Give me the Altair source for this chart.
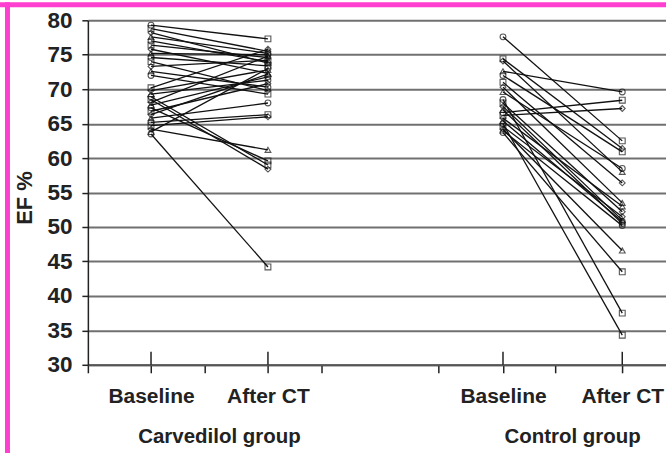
import altair as alt
import pandas as pd

# ---- data ----
categories = ["Baseline", "After CT", "Baseline", "After CT"]
cat_pos = [0.54, 1.54, 3.55, 4.57]
groups = ["Carvedilol group", "Control group"]

carv_base = [79.3, 78.8, 78.2, 77.6, 77.0, 76.4, 75.8, 75.2, 74.6, 74.0, 73.3, 72.6, 72.0,
             70.2, 69.8, 69.3, 68.9, 68.5, 68.1, 67.7, 67.3, 66.8, 66.3, 65.8, 65.2, 64.7,
             64.2, 63.8, 63.5]
carv_after = [77.3, 75.5, 73.8, 75.2, 74.0, 74.6, 72.3, 75.0, 73.4, 69.8, 74.2, 70.3, 69.3,
              75.8, 72.8, 71.3, 59.0, 58.4, 74.8, 71.8, 59.6, 70.8, 72.2, 68.0, 66.3, 66.0,
              61.2, 73.0, 44.2]

ctrl_base = [77.6, 74.4, 74.1, 72.6, 72.0, 71.0, 70.3, 69.6, 68.5, 68.0, 67.5, 67.0, 66.6,
             66.2, 65.8, 65.4, 65.0, 64.6, 64.2, 64.0, 63.7]
ctrl_after = [62.5, 61.4, 58.0, 69.6, 60.9, 56.4, 53.5, 58.5, 37.5, 52.2, 51.0, 50.5, 68.4,
              67.2, 53.0, 50.8, 34.3, 51.5, 46.6, 50.2, 43.5]

y_ticks = [30, 35, 40, 45, 50, 55, 60, 65, 70, 75, 80]
minor_ticks = [0, 1, 2, 3, 4]

shapes = ["circle", "square", "diamond", "triangle-up"]

rows = []
for g, base, after, p0, p1 in [("C", carv_base, carv_after, cat_pos[0], cat_pos[1]),
                               ("K", ctrl_base, ctrl_after, cat_pos[2], cat_pos[3])]:
    for i, (b, a) in enumerate(zip(base, after)):
        rows.append({"id": f"{g}{i}", "pos": p0, "ef": b, "shape": shapes[i % 4]})
        rows.append({"id": f"{g}{i}", "pos": p1, "ef": a, "shape": shapes[(i + 1) % 4]})
df = pd.DataFrame(rows)

cat_df = pd.DataFrame({"pos": cat_pos, "label": categories})
grp_df = pd.DataFrame({"group": groups,
                       "pos": [(cat_pos[0] + cat_pos[1]) / 2, (cat_pos[2] + cat_pos[3]) / 2]})

FONT = "Liberation Sans"
TXT = "#222222"

xscale = alt.Scale(domain=[0, 4.944], nice=False, zero=False)
yscale = alt.Scale(domain=[30, 80], nice=False, zero=False)

label_expr = ("datum.value == 0.54 || datum.value == 3.55 ? 'Baseline' : "
              "(datum.value == 1.54 || datum.value == 4.57 ? 'After CT' : '')")

lines = alt.Chart(df).mark_line(color="#111111", strokeWidth=1.3).encode(
    x=alt.X("pos:Q", scale=xscale,
            axis=alt.Axis(values=minor_ticks + cat_pos, labelExpr=label_expr, title=None,
                          grid=False, tickSize=8, tickColor="#222", tickWidth=1.5,
                          domainColor="#555", domainWidth=2, labelFont=FONT,
                          labelFontSize=21, labelFontWeight="bold", labelColor=TXT,
                          labelPadding=13, labelOverlap=False, labelFlush=False)),
    y=alt.Y("ef:Q", scale=yscale,
            axis=alt.Axis(values=y_ticks, title=None, grid=True, gridColor="#707070",
                          gridWidth=2, tickSize=6, tickColor="#222", tickWidth=1.5,
                          domainColor="#222", domainWidth=1.5, labelFont=FONT,
                          labelFontSize=22.5, labelFontWeight="bold", labelColor=TXT,
                          labelPadding=10, labelOverlap=False, labelFlush=False,
                          tickCount=11)),
    detail="id:N",
)

points = alt.Chart(df).mark_point(filled=False, color="#111111", size=34, strokeWidth=1.1).encode(
    x=alt.X("pos:Q", scale=xscale),
    y=alt.Y("ef:Q", scale=yscale),
    shape=alt.Shape("shape:N", scale=None, legend=None),
)

major_up = alt.Chart(cat_df).mark_rule(color="#222", strokeWidth=1.5).encode(
    x=alt.X("pos:Q", scale=xscale),
    y=alt.value(332), y2=alt.value(345),
)

group_text = alt.Chart(grp_df).mark_text(font=FONT, fontSize=20.5, fontWeight="bold",
                                         color=TXT, dx=10, baseline="middle").encode(
    x=alt.X("pos:Q", scale=xscale),
    y=alt.value(417),
    text="group:N",
)

ef_title = alt.Chart(alt.Data(values=[{"t": "EF %"}])).mark_text(
    font=FONT, fontSize=22, fontWeight="bold", color=TXT, angle=270,
    align="center", baseline="middle").encode(
    x=alt.value(-63), y=alt.value(178), text="t:N")

border = alt.Data(values=[{}])
top_bar = alt.Chart(border).mark_rule(color="#ff3fcf", strokeWidth=5).encode(
    x=alt.value(-88), x2=alt.value(600), y=alt.value(-15.5))
left_bar = alt.Chart(border).mark_rule(color="#ff3fcf", strokeWidth=5).encode(
    x=alt.value(-80.5), y=alt.value(-18), y2=alt.value(440))

chart = alt.layer(lines, points, major_up, group_text, ef_title, top_bar, left_bar).properties(
    width=579, height=345,
    padding={"left": 88, "top": 20, "right": 0, "bottom": 88},
    autosize=alt.AutoSizeParams(type="none"),
    background="white",
).configure_view(stroke=None)

chart.save("out.html", embed_options={"renderer": "svg", "actions": False})
